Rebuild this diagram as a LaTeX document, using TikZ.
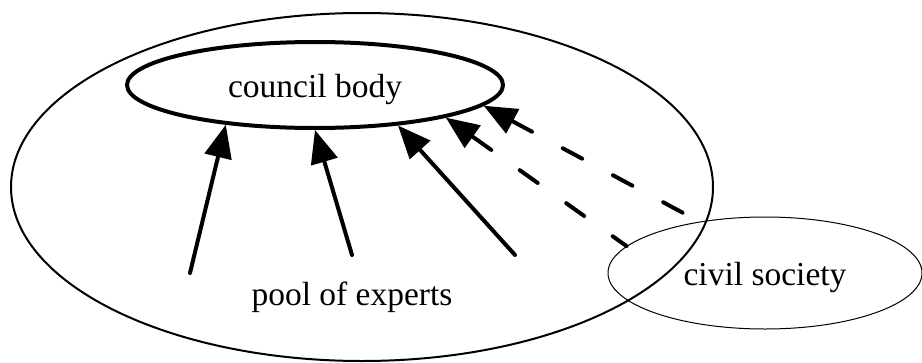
\documentclass[tikz,border=0pt]{standalone}
\usepackage{fontspec}
\setmainfont{Liberation Serif}
\usetikzlibrary{shapes.geometric,arrows.meta}
\begin{document}
\begin{tikzpicture}[x=1pt,y=1pt,
  lbl/.style={font=\fontsize{33.5}{40}\selectfont},
  oval/.style={ellipse, draw, inner sep=0pt, lbl, text height=28pt, text depth=4pt},
  link/.style={line width=4pt, line cap=round, -{Triangle[length=33pt,width=27pt]}},
  weaklink/.style={link, dash pattern=on 22pt off 35pt}]
\useasboundingbox[fill=white] (0,0) rectangle (922,-362);
% surrounding group boundary
\draw[line width=2pt] (362,-187) ellipse [x radius=351, y radius=174];
% nodes
\node[oval, line width=4pt, minimum width=376pt, minimum height=86pt] (council) at (315,-85) {council body};
\node[oval, line width=1pt, minimum width=314pt, minimum height=112pt] (civil) at (765,-273) {civil society};
\node[lbl, anchor=base] (pool) at (352,-305) {pool of experts};
% loose ends of the expert arrows
\coordinate (e1) at (190,-273);
\coordinate (e2) at (352,-255);
\coordinate (e3) at (515,-255);
% expert input
\draw[link] (e1) -- (council.204.9);
\draw[link] (e2) -- (council.270);
\draw[link] (e3) -- (council.334.5);
% civil society input
\draw[weaklink, dash phase=5pt] (civil.169.5) -- (council.346.6);
\draw[weaklink, shorten <=19pt] (civil.142.5) -- (council.353.3);
\end{tikzpicture}
\end{document}
